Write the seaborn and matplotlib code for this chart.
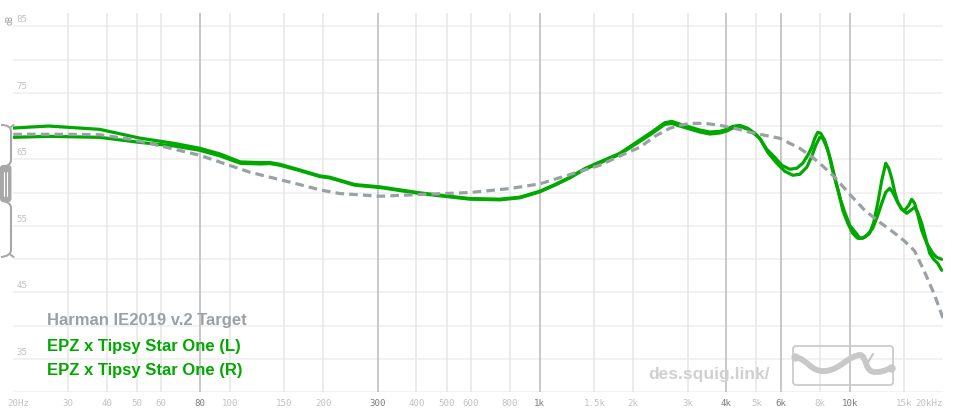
import numpy as np
import pandas as pd
import matplotlib
matplotlib.use("Agg")
import matplotlib.pyplot as plt
import seaborn as sns
from matplotlib.path import Path
from matplotlib.patches import PathPatch, FancyBboxPatch
from matplotlib import transforms

# ---------------- data ----------------
freq_L = [20, 26, 38, 51, 66, 80, 93, 108, 125, 135, 145, 168, 195, 210, 253, 305,
          410, 594, 743, 862, 1000, 1118, 1250, 1397, 1562, 1812, 2025, 2264, 2532,
          2666, 2829, 3284, 3536, 3808, 4008, 4194, 4420,
          4688, 4940, 5124, 5400, 5730, 6036, 6403, 6748, 7054, 7322, 7544, 7712,
          7885, 8060, 8306, 8560, 8750, 9016, 9286, 9638, 10000, 10552, 10772,
          11180, 11600, 11954, 12316, 12688, 13070, 13362, 13664, 13980, 14286,
          14720, 15050, 15506, 15850, 16200, 16572, 17072, 17720, 18534, 19088, 19808]
spl_L = [69.7, 70.0, 69.5, 68.2, 67.4, 66.65, 65.8, 64.6, 64.5, 64.5, 64.25, 63.4,
         62.5, 62.3, 61.2, 60.85, 59.95, 59.1, 59.0, 59.3, 60.2, 61.2, 62.3, 63.6,
         64.6, 65.9, 67.4, 68.9, 70.5, 70.7, 70.3, 69.4, 69.1, 69.2, 69.5, 69.95, 70.1,
         69.66, 68.91, 68.16, 66.5, 65.3, 64.1, 63.5, 63.65, 64.4, 65.6, 66.8, 68.16,
         69.06, 68.91, 67.86, 65.9, 63.8, 61.54, 59.29, 57.03, 55.08, 53.72, 53.12,
         53.27, 53.87, 55.53, 58.38, 61.84, 64.4, 63.65, 62.14, 60.04, 58.53,
         57.48, 57.33, 58.08, 58.98, 58.38, 56.73, 54.32, 52.37, 50.86, 50.26, 49.96]

freq_R = [20, 26, 38, 51, 66, 80, 93, 108, 125, 135, 145, 168, 195, 210, 253, 305,
          410, 594, 743, 862, 1000, 1118, 1250, 1397, 1562, 1812, 2025, 2264, 2532,
          2666, 2829, 3284, 3536, 3808, 4008, 4194, 4420,
          4688, 4940, 5124, 5438, 5816, 6172, 6550, 6900, 7268, 7544, 7772, 8005,
          8184, 8430, 8686, 8946, 9216, 9496, 9856, 10226, 10614, 11016, 11432,
          11866, 12316, 12688, 13070, 13460, 13766, 14178, 14720, 15272, 15734,
          16200, 16572, 17072, 17592, 18120, 18666, 19228, 19808]
spl_R = [68.3, 68.45, 68.3, 67.55, 67.0, 66.35, 65.5, 64.4, 64.3, 64.35, 64.1, 63.3,
         62.4, 62.2, 61.1, 60.75, 59.85, 59.0, 58.9, 59.2, 60.1, 61.1, 62.2, 63.5,
         64.45, 65.75, 67.2, 68.65, 70.25, 70.4, 70.0, 69.1, 68.8, 68.95, 69.25, 69.7,
         69.96,
         69.51, 68.76, 68.16, 66.05, 64.4, 63.2, 62.6, 62.74, 63.8, 65.45, 67.11,
         68.31, 68.16, 66.8, 64.85, 62.3, 60.04, 57.33, 55.38, 53.87, 53.12, 53.12,
         53.72, 54.62, 56.58, 58.38, 60.04, 60.64, 60.04, 58.83, 57.48, 56.88, 57.33,
         57.78, 57.03, 55.38, 53.12, 50.86, 49.96, 49.36, 48.31]

freq_T = [20, 30, 38, 48, 55, 80, 116, 168, 195, 226, 305, 410, 594, 800, 1000,
          1250, 1562, 1812, 2102, 2350, 2626, 2829, 3048, 3406, 3808, 4256, 4760,
          5318, 5945, 6403, 6900, 7430, 8005, 8946, 10000, 11180, 12500, 13980,
          15050, 16200, 17460, 18806, 20000]
spl_T = [68.76, 68.76, 68.7, 68.0, 67.4, 65.6, 63.05, 61.2, 60.4, 59.85, 59.44,
         59.7, 60.0, 60.6, 61.3, 62.7, 64.1, 65.5, 66.8, 68.46, 69.66, 70.11, 70.4,
         70.41, 70.11, 69.66, 69.06, 68.61, 68.16, 67.41, 66.65, 65.6, 64.4, 62.3,
         59.74, 57.33, 55.53, 53.87, 52.67, 51.2, 48.0, 44.55, 41.1]

legend_labels = ["Harman IE2019 v.2 Target", "EPZ x Tipsy Star One (L)",
                 "EPZ x Tipsy Star One (R)"]

xtick_freqs = [20, 30, 40, 50, 60, 80, 100, 150, 200, 300, 400, 500, 600, 800,
               1000, 1500, 2000, 3000, 4000, 5000, 6000, 8000, 10000, 15000, 20000]
xtick_labels = ["20Hz", "30", "40", "50", "60", "80", "100", "150", "200", "300",
                "400", "500", "600", "800", "1k", "1.5k", "2k", "3k", "4k", "5k",
                "6k", "8k", "10k", "15k", "20kHz"]
xtick_strong = [80, 300, 1000, 4000, 6000, 10000]
ytick_vals = [35, 45, 55, 65, 75, 85]

# ---------------- styling ----------------
GREEN = "#00a800"
GRAY_T = "#9aa1a5"
W, H = 967, 417

sns.set_style("white")
plt.rcParams["font.family"] = ["Liberation Sans", "DejaVu Sans"]

fig = plt.figure(figsize=(W / 100, H / 100), dpi=100)
ax = fig.add_axes([13.3 / W, (H - 392) / H, (943 - 13.3) / W, 379 / H])
ax.set_xscale("log")
ax.set_xlim(20, 20000)
ax.set_ylim(30, 87)
for s in ax.spines.values():
    s.set_visible(False)
ax.set_xticks([])
ax.set_yticks([])
ax.minorticks_off()

# grid
for v in range(30, 90, 5):
    ax.axhline(v, color="#f0f0f0", lw=1.2, zorder=0)
for f in xtick_freqs[1:-1]:
    strong = f in xtick_strong
    ax.axvline(f, color="#b9b9b9" if strong else "#e6e6e6", lw=1.1, zorder=0.5)

# curves
df_L = pd.DataFrame({"freq": freq_L, "spl": spl_L})
df_R = pd.DataFrame({"freq": freq_R, "spl": spl_R})
df_T = pd.DataFrame({"freq": freq_T, "spl": spl_T})
sns.lineplot(data=df_L, x="freq", y="spl", ax=ax, color=GREEN, lw=2.3,
             estimator=None, sort=False, zorder=3)
sns.lineplot(data=df_R, x="freq", y="spl", ax=ax, color=GREEN, lw=2.3,
             estimator=None, sort=False, zorder=3)
sns.lineplot(data=df_T, x="freq", y="spl", ax=ax, color=GRAY_T, lw=2.3,
             estimator=None, sort=False, zorder=4)
for ln in ax.lines[-3:]:
    ln.set_solid_joinstyle("round")
    ln.set_dash_joinstyle("round")
ax.lines[-1].set_dashes([2.7, 1.6])
ax.set_xlabel("")
ax.set_ylabel("")

# tick labels (x)
mono = "DejaVu Sans Mono"
for f, lab in zip(xtick_freqs, xtick_labels):
    strong = f in xtick_strong
    ha = "center"
    tr = ax.get_xaxis_transform()
    if lab == "20Hz":
        tr = tr + transforms.ScaledTranslation(5 / 100, 0, fig.dpi_scale_trans)
    if lab == "20kHz":
        ha = "right"
    ax.text(f, -12 / 379, lab, transform=tr, ha=ha, va="center",
            fontsize=6.6, family=mono, color="#7a7a7a" if strong else "#c2c2c2")

# tick labels (y)
ytr = transforms.blended_transform_factory(ax.transAxes, ax.transData) + \
    transforms.ScaledTranslation(0, 6.5 / 100, fig.dpi_scale_trans)
for v in ytick_vals:
    ax.text(3.5 / 930, v, str(v), transform=ytr, ha="left", va="center",
            fontsize=6.6, family=mono, color="#c2c2c2")
fig.text(10 / W, 1 - 20 / H, "dB", rotation=90, ha="center", va="center",
         fontsize=6, color="#9a9a9a", family=mono)

# legend text
leg_colors = [GRAY_T, GREEN, GREEN]
for i, (lab, c) in enumerate(zip(legend_labels, leg_colors)):
    y = [320, 346, 371][i]
    fig.text(47 / W, 1 - y / H, lab, ha="left", va="center", fontsize=12,
             fontweight="bold", color=c)

# overlay for decorations in pixel coords
ov = fig.add_axes([0, 0, 1, 1], zorder=5)
ov.set_xlim(0, W)
ov.set_ylim(H, 0)
ov.axis("off")
ov.patch.set_alpha(0)

# watermark
ov.text(709, 375, "des.squig.link/", ha="center", va="center", fontsize=12.5,
        fontweight="bold", color="#d0d0d0")
box = FancyBboxPatch((793, 346), 100, 39, boxstyle="round,pad=0,rounding_size=3",
                     fill=False, ec="#cccccc", lw=1.3)
ov.add_patch(box)
sq = Path([(795, 357), (808, 359), (810, 372), (825, 371),
           (840, 370), (848, 356), (860, 355),
           (867, 355), (864, 373), (876, 372),
           (884, 372), (888, 369), (891, 368)],
          [Path.MOVETO] + [Path.CURVE4] * 12)
ov.add_patch(PathPatch(sq, fill=False, ec="#c8c8c8", lw=4.2, capstyle="round",
                       joinstyle="round"))
ov.plot([795, 891], [357, 368], "o", color="#c8c8c8", ms=6, mec="none")
ov.plot([867, 873], [364, 354], color="#c8c8c8", lw=1.6, solid_capstyle="round")

# left slider bracket
sl = "#a8a8a8"
top = Path([(1, 125), (11, 125), (11, 131), (11, 160), (11, 166), (2, 167)],
           [Path.MOVETO, Path.CURVE3, Path.CURVE3, Path.LINETO, Path.CURVE3, Path.CURVE3])
ov.add_patch(PathPatch(top, fill=False, ec=sl, lw=1.5))
ov.plot([11, 13.5], [127, 125], color=sl, lw=1.5)
bot = Path([(2, 201), (11, 202), (11, 208), (11, 250), (11, 256), (1, 257)],
           [Path.MOVETO, Path.CURVE3, Path.CURVE3, Path.LINETO, Path.CURVE3, Path.CURVE3])
ov.add_patch(PathPatch(bot, fill=False, ec=sl, lw=1.5))
ov.plot([11, 13.5], [255, 257], color=sl, lw=1.5)
blk = FancyBboxPatch((0, 165), 11.5, 37, boxstyle="round,pad=0,rounding_size=3",
                     fc=sl, ec="none")
ov.add_patch(blk)
ov.plot([4, 4], [172, 196], color="white", lw=0.8)
ov.plot([7, 7], [172, 196], color="white", lw=0.8)

fig.savefig("out.png", dpi=100)
